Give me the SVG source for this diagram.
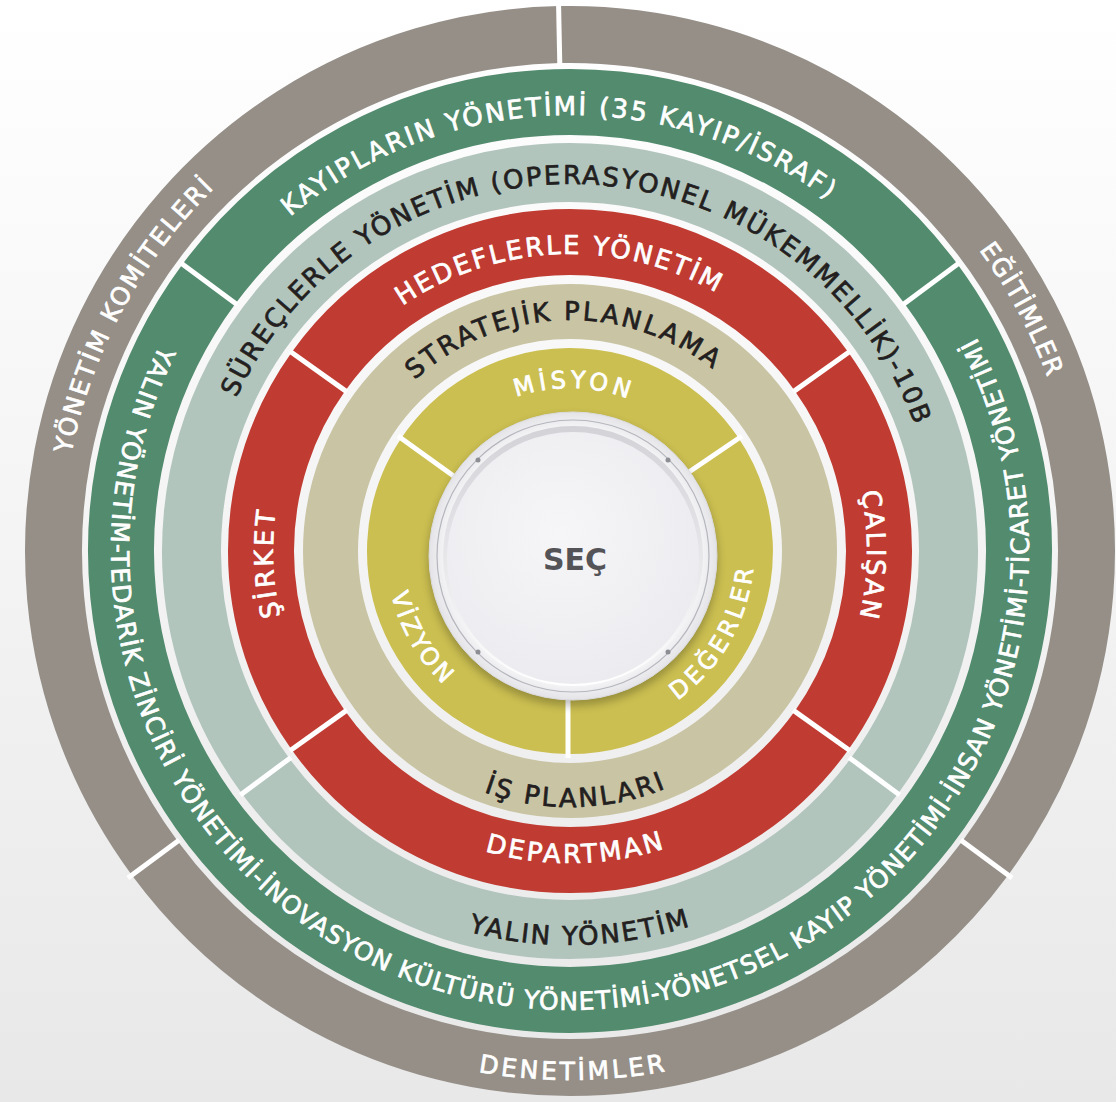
<svg xmlns="http://www.w3.org/2000/svg" width="1116" height="1102" viewBox="0 0 1116 1102">
<defs>
  <linearGradient id="bg" x1="0" y1="0" x2="0" y2="1">
    <stop offset="0" stop-color="#ffffff"/>
    <stop offset="1" stop-color="#e8e8e8"/>
  </linearGradient>
  <radialGradient id="rim" cx="0.5" cy="0.5" r="0.5">
    <stop offset="0.9" stop-color="#f3f3f5"/>
    <stop offset="1" stop-color="#e4e4e8"/>
  </radialGradient>
  <radialGradient id="dish" cx="0.45" cy="0.4" r="0.6">
    <stop offset="0" stop-color="#f6f6f8"/>
    <stop offset="1" stop-color="#ececf0"/>
  </radialGradient>
  <linearGradient id="lip" x1="0" y1="0" x2="0" y2="1">
    <stop offset="0" stop-color="#d2d2d7"/>
    <stop offset="0.6" stop-color="#ebebee"/>
    <stop offset="1" stop-color="#ffffff"/>
  </linearGradient>
  <filter id="blur" x="-20%" y="-20%" width="140%" height="140%"><feGaussianBlur stdDeviation="4"/></filter>
  <path id="cw508" d="M 62 551 A 508 508 0 1 1 1078 551 A 508 508 0 1 1 62 551"/>
  <path id="ccw529" d="M 41 551 A 529 529 0 1 0 1099 551 A 529 529 0 1 0 41 551"/>
  <path id="cw436" d="M 134 551 A 436 436 0 1 1 1006 551 A 436 436 0 1 1 134 551"/>
  <path id="ccw459" d="M 111 551 A 459 459 0 1 0 1029 551 A 459 459 0 1 0 111 551"/>
  <path id="cw367" d="M 203 551 A 367 367 0 1 1 937 551 A 367 367 0 1 1 203 551"/>
  <path id="ccw394" d="M 176 551 A 394 394 0 1 0 964 551 A 394 394 0 1 0 176 551"/>
  <path id="cw297" d="M 273 551 A 297 297 0 1 1 867 551 A 297 297 0 1 1 273 551"/>
  <path id="ccw312" d="M 258 551 A 312 312 0 1 0 882 551 A 312 312 0 1 0 258 551"/>
  <path id="cw231" d="M 339 551 A 231 231 0 1 1 801 551 A 231 231 0 1 1 339 551"/>
  <path id="ccw256" d="M 314 551 A 256 256 0 1 0 826 551 A 256 256 0 1 0 314 551"/>
  <path id="cw163" d="M 407 551 A 163 163 0 1 1 733 551 A 163 163 0 1 1 407 551"/>
  <path id="ccw184" d="M 386 551 A 184 184 0 1 0 754 551 A 184 184 0 1 0 386 551"/>
</defs>
<style>
  .seg{fill:none}
  .gray{stroke:#958f88;stroke-width:57}
  .green{stroke:#528b6e;stroke-width:66}
  .teal{stroke:#b1c5bd;stroke-width:59}
  .red{stroke:#c03b32;stroke-width:66}
  .tan{stroke:#c9c4a4;stroke-width:55}
  .yellow{stroke:#cbbf51;stroke-width:65}
  .div{stroke:#ffffff;stroke-width:5;fill:none}
  .lbl{font-family:"DejaVu Sans","Open Sans",sans-serif;font-weight:normal;font-size:26px;stroke-width:0.7px;stroke-linejoin:round}
  .md{font-size:25px}
  .sm{font-size:24px}
  .w{fill:#ffffff;stroke:#ffffff}
  .d{fill:#231f20;stroke:#231f20}
</style>
<rect x="0" y="0" width="1116" height="1102" fill="url(#bg)"/>

<g id="ring-gray">
  <g id="yonetim-komiteleri">
    <path class="seg gray" d="M 154.8 858.2 A 516.5 516.5 0 0 1 559.2 34.6"/>
    <text class="lbl md w" text-anchor="middle" transform="rotate(-151.75 570 551)"><textPath href="#cw508" startOffset="50%" textLength="306" lengthAdjust="spacing">YÖNETİM KOMİTELERİ</textPath></text>
  </g>
  <g id="egitimler">
    <path class="seg gray" d="M 559.2 34.6 A 516.5 516.5 0 0 1 985.2 858.2"/>
    <text class="lbl md w" text-anchor="middle" transform="rotate(-28.2 570 551)"><textPath href="#cw508" startOffset="50%" textLength="145" lengthAdjust="spacing">EĞİTİMLER</textPath></text>
  </g>
  <g id="denetimler">
    <path class="seg gray" d="M 985.2 858.2 A 516.5 516.5 0 0 1 154.8 858.2"/>
    <text class="lbl md w" text-anchor="middle" transform="rotate(89.8 570 551)"><textPath href="#ccw529" startOffset="50%" textLength="188" lengthAdjust="spacing">DENETİMLER</textPath></text>
  </g>
</g>

<g id="ring-green">
  <g id="kayiplarin-yonetimi">
    <path class="seg green" d="M 209.0 283.9 A 449 449 0 0 1 931.0 283.9"/>
    <text class="lbl w" text-anchor="middle" transform="rotate(-91.85 570 551)"><textPath href="#cw436" startOffset="50%" textLength="580" lengthAdjust="spacing">KAYIPLARIN YÖNETİMİ (35 KAYIP/İSRAF)</textPath></text>
  </g>
  <g id="yalin-yonetim-tedarik">
    <path class="seg green" d="M 931.0 283.9 A 449 449 0 1 1 209.0 283.9"/>
    <text class="lbl md w" text-anchor="middle" transform="rotate(89.45 570 551)"><textPath href="#ccw459" startOffset="50%" textLength="1878" lengthAdjust="spacing">YALIN YÖNETİM-TEDARİK ZİNCİRİ YÖNETİMİ-İNOVASYON KÜLTÜRÜ YÖNETİMİ-YÖNETSEL KAYIP YÖNETİMİ-İNSAN YÖNETİMİ-TİCARET YÖNETİMİ</textPath></text>
  </g>
</g>

<g id="ring-teal">
  <g id="sureclerle-yonetim">
    <path class="seg teal" d="M 265.7 776.1 A 378.5 378.5 0 1 1 874.3 776.1"/>
    <text class="lbl d" text-anchor="middle" transform="rotate(-87.75 570 551)"><textPath href="#cw367" startOffset="50%" textLength="866" lengthAdjust="spacing">SÜREÇLERLE YÖNETİM (OPERASYONEL MÜKEMMELLİK)-10B</textPath></text>
  </g>
  <g id="yalin-yonetim">
    <path class="seg teal" d="M 874.3 776.1 A 378.5 378.5 0 0 1 265.7 776.1"/>
    <text class="lbl d" text-anchor="middle" transform="rotate(88.6 570 551)"><textPath href="#ccw394" startOffset="50%" textLength="225" lengthAdjust="spacing">YALIN YÖNETİM</textPath></text>
  </g>
</g>

<g id="ring-red">
  <g id="hedeflerle-yonetim">
    <path class="seg red" d="M 318.4 371.6 A 309 309 0 0 1 821.6 371.6"/>
    <text class="lbl w" text-anchor="middle" transform="rotate(-92.45 570 551)"><textPath href="#cw297" startOffset="50%" textLength="331" lengthAdjust="spacing">HEDEFLERLE YÖNETİM</textPath></text>
  </g>
  <g id="calisan">
    <path class="seg red" d="M 821.6 371.6 A 309 309 0 0 1 821.6 730.4"/>
    <text class="lbl w" text-anchor="middle" transform="rotate(0.65 570 551)"><textPath href="#cw297" startOffset="50%" textLength="126" lengthAdjust="spacing">ÇALIŞAN</textPath></text>
  </g>
  <g id="departman">
    <path class="seg red" d="M 821.6 730.4 A 309 309 0 0 1 318.4 730.4"/>
    <text class="lbl w" text-anchor="middle" transform="rotate(89.15 570 551)"><textPath href="#ccw312" startOffset="50%" textLength="182" lengthAdjust="spacing">DEPARTMAN</textPath></text>
  </g>
  <g id="sirket">
    <path class="seg red" d="M 318.4 730.4 A 309 309 0 0 1 318.4 371.6"/>
    <text class="lbl w" text-anchor="middle" transform="rotate(177.45 570 551)"><textPath href="#cw297" startOffset="50%" textLength="106" lengthAdjust="spacing">ŞİRKET</textPath></text>
  </g>
</g>

<g id="ring-tan">
  <g id="stratejik-planlama">
    <circle class="seg tan" cx="570" cy="551" r="239.5"/>
    <text class="lbl d" text-anchor="middle" transform="rotate(-92.1 570 551)"><textPath href="#cw231" startOffset="50%" textLength="324" lengthAdjust="spacing">STRATEJİK PLANLAMA</textPath></text>
  </g>
  <g id="is-planlari">
    <text class="lbl d" text-anchor="middle" transform="rotate(88.9 570 551)"><textPath href="#ccw256" startOffset="50%" textLength="186" lengthAdjust="spacing">İŞ PLANLARI</textPath></text>
  </g>
</g>

<g id="ring-yellow">
  <g id="misyon">
    <path class="seg yellow" d="M 427.7 457.1 A 170.5 170.5 0 0 1 711.3 455.7"/>
    <text class="lbl sm w" text-anchor="middle" transform="rotate(-89.25 570 551)"><textPath href="#cw163" startOffset="50%" textLength="114" lengthAdjust="spacing">MİSYON</textPath></text>
  </g>
  <g id="degerler">
    <path class="seg yellow" d="M 711.3 455.7 A 170.5 170.5 0 0 1 568 721.5"/>
    <text class="lbl sm w" text-anchor="middle" transform="rotate(30 570 551)"><textPath href="#ccw184" startOffset="50%" textLength="156" lengthAdjust="spacing">DEĞERLER</textPath></text>
  </g>
  <g id="vizyon">
    <path class="seg yellow" d="M 568 721.5 A 170.5 170.5 0 0 1 427.7 457.1"/>
    <text class="lbl sm w" text-anchor="middle" transform="rotate(150 570 551)"><textPath href="#ccw184" startOffset="50%" textLength="106" lengthAdjust="spacing">VİZYON</textPath></text>
  </g>
</g>

<g id="dividers">
  <line class="div" x1="559.8" y1="65" x2="558.5" y2="1"/>
  <line class="div" x1="179.3" y1="840.1" x2="127.9" y2="878.1"/>
  <line class="div" x1="960.7" y1="840.1" x2="1012.1" y2="878.1"/>
  <line class="div" x1="237.2" y1="304.7" x2="180.9" y2="263.1"/>
  <line class="div" x1="902.8" y1="304.7" x2="959.1" y2="263.1"/>
  <line class="div" x1="291.0" y1="757.4" x2="240.4" y2="794.9"/>
  <line class="div" x1="849.0" y1="757.4" x2="899.6" y2="794.9"/>
  <line class="div" x1="346.9" y1="391.9" x2="289.9" y2="351.2"/>
  <line class="div" x1="793.1" y1="391.9" x2="850.1" y2="351.2"/>
  <line class="div" x1="793.1" y1="710.1" x2="850.1" y2="750.8"/>
  <line class="div" x1="346.9" y1="710.1" x2="289.9" y2="750.8"/>
  <line class="div" x1="398" y1="436" x2="455" y2="477"/>
  <line class="div" x1="689" y1="472" x2="742" y2="436"/>
  <line class="div" x1="568" y1="690" x2="568" y2="758"/>
</g>

<g id="sec">
  <circle cx="573" cy="561" r="145" fill="#000000" opacity="0.25" filter="url(#blur)"/>
  <circle cx="573" cy="556" r="144" fill="url(#rim)" stroke="#dcdce0" stroke-width="1"/>
  <circle cx="573" cy="556" r="136" fill="none" stroke="#b4b6bc" stroke-width="1.2"/>
  <circle cx="573" cy="556" r="130" fill="url(#lip)"/>
  <circle cx="573" cy="558" r="126" fill="url(#dish)"/>
  <circle cx="478" cy="460" r="2.5" fill="#8d8e94"/>
  <circle cx="668" cy="460" r="2.5" fill="#8d8e94"/>
  <circle cx="478" cy="652" r="2.5" fill="#8d8e94"/>
  <circle cx="668" cy="652" r="2.5" fill="#8d8e94"/>
  <text x="575" y="570" text-anchor="middle" font-family="'DejaVu Sans','Open Sans',sans-serif" font-weight="700" font-size="30" fill="#545357">SEÇ</text>
</g>
</svg>
